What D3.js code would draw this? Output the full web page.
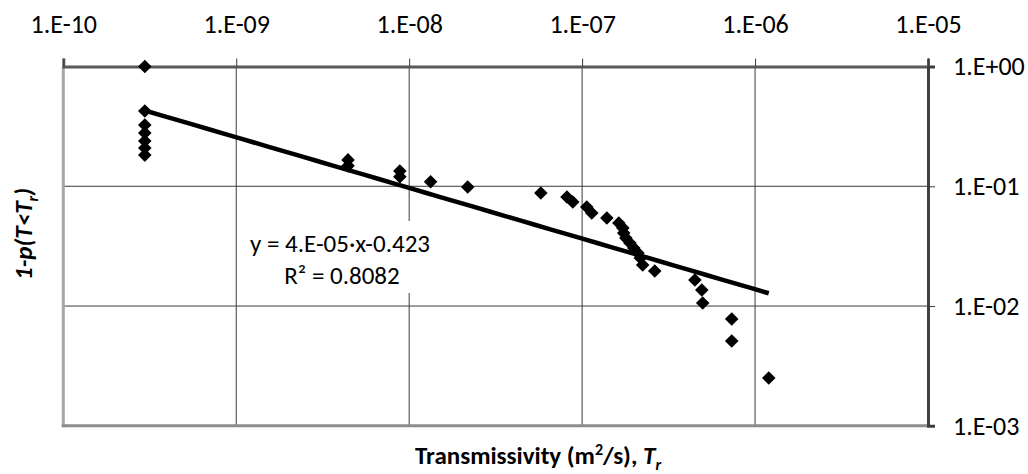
<!DOCTYPE html>
<html>
<head>
<meta charset="utf-8">
<script src="https://cdn.jsdelivr.net/npm/d3@7"></script>
<style>
  html, body { margin: 0; padding: 0; background: #fff; }
  svg { display: block; font-family: Carlito, "Open Sans", "Noto Sans", sans-serif; }
</style>
</head>
<body>
<svg id="chart" width="1028" height="474"></svg>
<script>
// ---- data ----
const transmissivity = [
  2.96e-10, 2.96e-10, 2.96e-10, 2.96e-10, 2.96e-10, 2.96e-10, 2.96e-10,
  4.43e-9, 4.43e-9, 8.83e-9, 8.83e-9, 1.33e-8, 2.18e-8,
  5.77e-8, 8.17e-8, 8.83e-8, 1.064e-7, 1.137e-7, 1.39e-7,
  1.63e-7, 1.72e-7, 1.74e-7, 1.79e-7, 1.89e-7, 1.99e-7, 2.10e-7, 2.17e-7, 2.24e-7,
  2.63e-7, 4.49e-7, 4.92e-7, 4.98e-7, 7.33e-7, 7.33e-7, 1.20e-6
];
const exceedance = [
  1.0, 0.425, 0.325, 0.279, 0.239, 0.209, 0.182,
  0.166, 0.148, 0.134, 0.120, 0.109, 0.0987,
  0.0879, 0.0814, 0.0739, 0.0672, 0.0598, 0.0544,
  0.0494, 0.0449, 0.0407, 0.0370, 0.0336, 0.0305, 0.0277, 0.0252, 0.0220,
  0.0196, 0.0165, 0.0136, 0.0106, 0.0078, 0.00511, 0.00251
];
// power-law trendline y = a * x^b (as printed on the chart), drawn over the fitted x range
const trendCoef = 4e-5;
const trendExp = -0.423;
const trendRange = [2.96e-10, 1.20e-6];
const xTicks = [1e-10, 1e-9, 1e-8, 1e-7, 1e-6, 1e-5];
const yTicks = [1e-3, 1e-2, 1e-1, 1e0];
const xTickLabels = ["1.E-10", "1.E-09", "1.E-08", "1.E-07", "1.E-06", "1.E-05"];
const yTickLabels = ["1.E-03", "1.E-02", "1.E-01", "1.E+00"];
const trendLabel = ["y = 4.E-05·x-0.423", "R² = 0.8082"];

// ---- layout ----
const svg = d3.select("#chart");
const L = 63.3, R = 928, T = 66.5, B = 425.8;
const FONT = 'Carlito, "Open Sans", sans-serif';

const x = d3.scaleLog().domain([1e-10, 1e-5]).range([L, R]);
const y = d3.scaleLog().domain([1e-3, 1]).range([B, T]);

// gridlines
const grid = svg.append("g");
grid.selectAll("line.vx").data(xTicks.slice(1, -1)).join("line")
  .attr("x1", d => x(d)).attr("x2", d => x(d)).attr("y1", T).attr("y2", B)
  .attr("stroke", "#3a3a3a").attr("stroke-width", 1);
grid.selectAll("line.hy").data(yTicks.slice(1, -1)).join("line")
  .attr("x1", L).attr("x2", R).attr("y1", d => y(d)).attr("y2", d => y(d))
  .attr("stroke", "#3a3a3a").attr("stroke-width", 1);

// trend label background box (hides gridline behind it)
svg.append("rect").attr("x", 242).attr("y", 221).attr("width", 196).attr("height", 72).attr("fill", "#fff");

// plot borders
svg.append("line").attr("x1", L).attr("x2", L).attr("y1", T).attr("y2", B + 1.5)
  .attr("stroke", "#a6a6a6").attr("stroke-width", 3);
svg.append("line").attr("x1", L - 1.5).attr("x2", R).attr("y1", B).attr("y2", B)
  .attr("stroke", "#8c8c8c").attr("stroke-width", 3);

// top axis (x)
const xAxis = d3.axisTop(x).tickValues(xTicks).tickSize(8).tickPadding(26)
  .tickFormat((d, i) => xTickLabels[i]);
const gx = svg.append("g").attr("transform", `translate(0,${T})`).call(xAxis);
gx.select(".domain").attr("stroke", "#595959").attr("stroke-width", 3);
gx.selectAll(".tick line").attr("stroke", "#3a3a3a").attr("stroke-width", 1);
gx.selectAll(".tick text").attr("font-size", 26).attr("fill", "#000").attr("font-family", FONT);

// right axis (y)
const yAxis = d3.axisRight(y).tickValues(yTicks).tickSize(7).tickPadding(18)
  .tickFormat((d, i) => yTickLabels[i]);
const gy = svg.append("g").attr("transform", `translate(${R},0)`).call(yAxis);
gy.select(".domain").attr("stroke", "#404040").attr("stroke-width", 3);
gy.selectAll(".tick line").attr("stroke", "#3a3a3a").attr("stroke-width", 1);
gy.selectAll(".tick text").attr("font-size", 26).attr("fill", "#000").attr("font-family", FONT);

// trendline
const tx = d3.range(0, 41).map(i => trendRange[0] * Math.pow(trendRange[1] / trendRange[0], i / 40));
svg.append("path")
  .datum(tx)
  .attr("d", d3.line().x(d => x(d)).y(d => y(trendCoef * Math.pow(d, trendExp))))
  .attr("fill", "none").attr("stroke", "#000").attr("stroke-width", 4.5);

// markers
const pts = transmissivity.map((t, i) => ({ t, p: exceedance[i] }));
svg.append("g").selectAll("path").data(pts).join("path")
  .attr("d", d3.symbol(d3.symbolSquare, 92)())
  .attr("transform", d => `translate(${x(d.t)},${y(d.p)}) rotate(45)`)
  .attr("fill", "#000");

// trendline label
const lab = svg.append("text").attr("font-size", 25).attr("text-anchor", "middle").attr("fill", "#000").attr("font-family", FONT);
lab.append("tspan").attr("x", 340).attr("y", 252).text(trendLabel[0]);
lab.append("tspan").attr("x", 342).attr("y", 284).text(trendLabel[1]);

// axis titles
const xt = svg.append("text").attr("x", 538).attr("y", 464).attr("text-anchor", "middle")
  .attr("font-size", 25).attr("font-weight", "bold").attr("fill", "#000").attr("font-family", FONT);
xt.append("tspan").text("Transmissivity (m");
xt.append("tspan").attr("dy", -9).attr("font-size", 16).text("2");
xt.append("tspan").attr("dy", 9).text("/s), ");
xt.append("tspan").attr("font-style", "italic").text("T");
xt.append("tspan").attr("font-style", "italic").attr("dy", 6).attr("font-size", 16).text("r");

const yt = svg.append("text").attr("transform", "translate(32,234) rotate(-90)").attr("text-anchor", "middle")
  .attr("font-size", 25).attr("font-weight", "bold").attr("font-style", "italic").attr("fill", "#000").attr("font-family", FONT);
yt.append("tspan").text("1-p(T<T");
yt.append("tspan").attr("dy", 6).attr("font-size", 16).text("r");
yt.append("tspan").attr("dy", -6).text(")");
</script>
</body>
</html>
